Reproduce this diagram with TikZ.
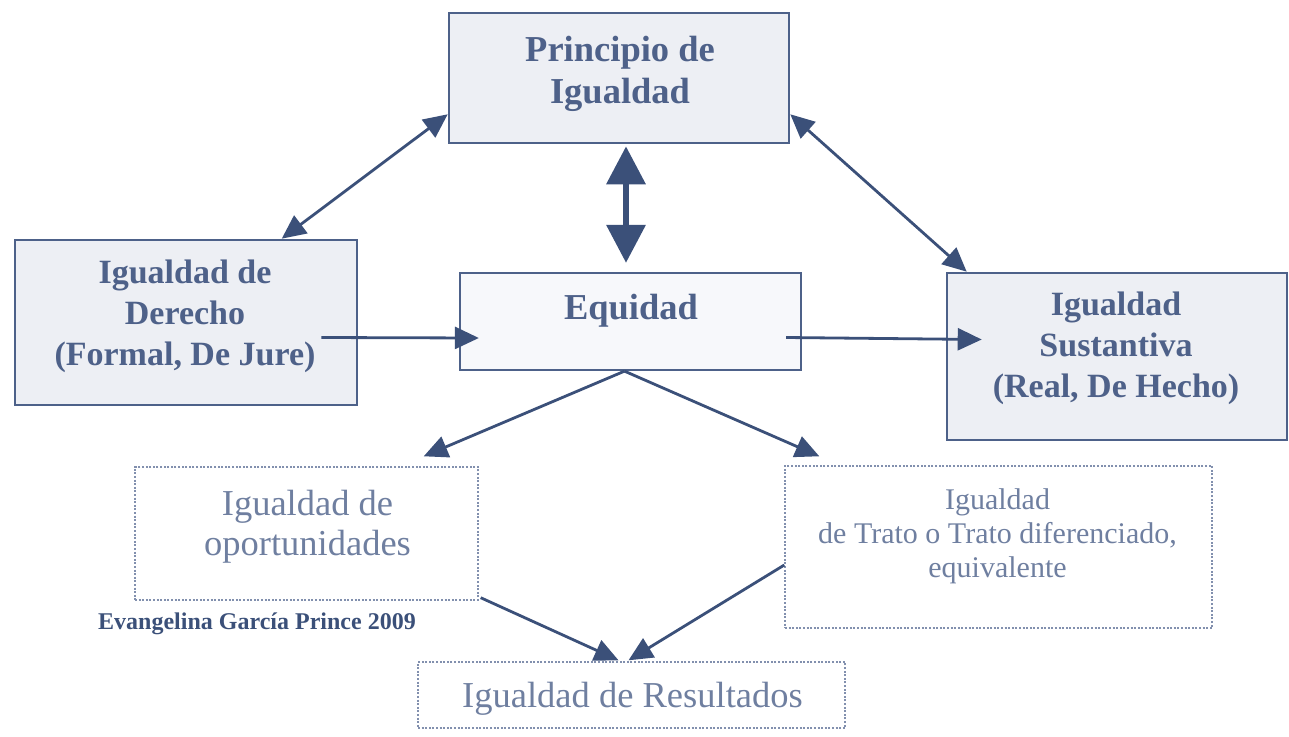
\documentclass[tikz,border=0pt]{standalone}
\usepackage{fontspec}
\setmainfont{Liberation Serif}
\usetikzlibrary{arrows.meta,calc}
\definecolor{navy}{HTML}{3B5079}
\definecolor{boxline}{HTML}{4D6189}
\definecolor{boxfill}{HTML}{EDEFF4}
\definecolor{eqfill}{HTML}{F7F8FB}
\definecolor{txt}{HTML}{4E6189}
\definecolor{ltxt}{HTML}{6F7FA0}
\definecolor{dotline}{HTML}{8290AE}
\begin{document}
\begin{tikzpicture}[x=1pt,y=-1pt,
  mainbox/.style={draw=boxline,line width=2.6pt,fill=boxfill,inner sep=0pt},
  dotbox/.style={draw=dotline,line width=1.4pt,dash pattern=on 2pt off 1.6pt,inner sep=0pt},
  boldtext/.style={text=txt,font=\fontsize{34}{41}\selectfont\bfseries,align=center,inner sep=0pt},
  bigbold/.style={text=txt,font=\fontsize{36.5}{42}\selectfont\bfseries,align=center,inner sep=0pt},
  lighttext/.style={text=ltxt,font=\fontsize{36.5}{40}\selectfont,align=center,inner sep=0pt},
  smalllight/.style={text=ltxt,font=\fontsize{30}{34}\selectfont,align=center,inner sep=0pt},
  credit/.style={text=navy,font=\fontsize{24}{27}\selectfont\bfseries,inner sep=0pt},
  link/.style={draw=navy,line width=2.8pt,-{Triangle[length=24pt,width=22pt]}},
  link2/.style={draw=navy,line width=2.8pt,{Triangle[length=24pt,width=22pt]}-{Triangle[length=24pt,width=22pt]}},
  bigtwo/.style={draw=navy,line width=6.5pt,{Triangle[length=38pt,width=38pt]}-{Triangle[length=38pt,width=38pt]}}]
\useasboundingbox (0,0) rectangle (1289,736);

% boxes
\node[mainbox,minimum width=340pt,minimum height=130pt] (P) at (619,78) {};
\node[mainbox,minimum width=342pt,minimum height=165pt] (D) at (186,322.5) {};
\node[mainbox,fill=eqfill,line width=2.3pt,minimum width=341pt,minimum height=97pt] (E) at (630.5,321.5) {};
\node[mainbox,minimum width=340pt,minimum height=167pt] (S) at (1117,356.5) {};
\node[dotbox,minimum width=343pt,minimum height=133pt] (O) at (306.5,533.5) {};
\node[dotbox,minimum width=427pt,minimum height=162pt] (T) at (998.5,547) {};
\node[dotbox,minimum width=427pt,minimum height=66pt] (R) at (631.5,695) {};

% texts
\node[bigbold] (tP) at (620,74) {Principio de\\Igualdad};
\node[boldtext] (tD) at (185,316) {Igualdad de\\Derecho\\(Formal, De Jure)};
\node[bigbold] (tE) at (631,311) {Equidad};
\node[boldtext] (tS) at (1116,348) {Igualdad\\Sustantiva\\(Real, De Hecho)};
\node[lighttext] (tO) at (307.5,527) {Igualdad de\\oportunidades};
\node[smalllight] (tT) at (997.5,536) {Igualdad\\de Trato o Trato diferenciado,\\equivalente};
\node[lighttext] (tR) at (632.5,699) {Igualdad de Resultados};
\node[credit] (cr) at (257,624) {Evangelina García Prince 2009};

% connectors
\draw[link2] ($(P.south west)+(0,-30)$) -- ($(D.north west)+(268,0)$);
\draw[link2] ($(P.south east)+(0,-30)$) -- ($(S.north west)+(21,0)$);
\draw[bigtwo] ($(P.south)+(7,2)$) -- ($(E.north)+(-4.5,-9)$);
\draw[link] ($(D.east)+(-37,15)$) -- ($(E.west)+(20,16.5)$);
\draw[link] ($(E.east)+(-16,16)$) -- ($(S.west)+(36,-17)$);
\draw[link] ($(E.south)+(-6,0)$) -- ($(O.north east)+(-55,-10)$);
\draw[link] ($(E.south)+(-6,0)$) -- ($(T.north west)+(35,-9)$);
\draw[link] ($(O.south east)+(2,-3)$) -- ($(R.north)+(-13,-1)$);
\draw[link] ($(T.west)+(0,18)$) -- ($(R.north)+(-3,-1)$);
\end{tikzpicture}
\end{document}
